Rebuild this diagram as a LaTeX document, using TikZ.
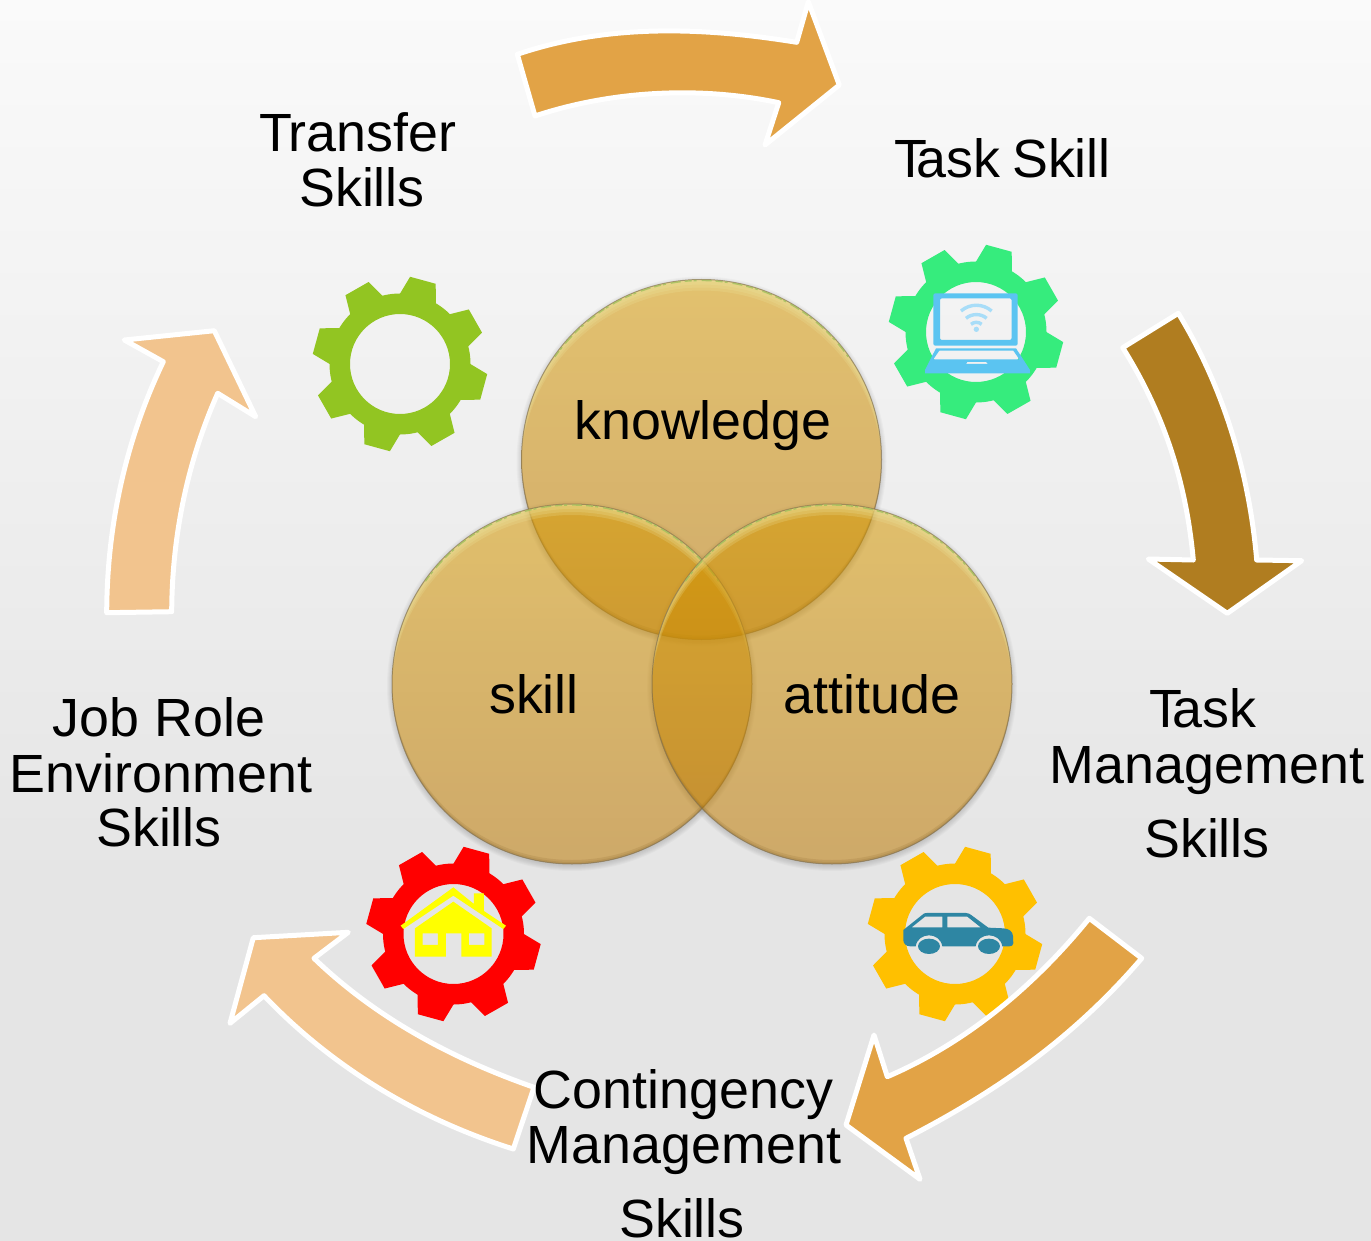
\documentclass[tikz,border=0pt]{standalone}
\usepackage{fontspec}
\setmainfont{Liberation Sans}
\definecolor{arrowgold}{HTML}{E2A346}
\definecolor{arrowbrown}{HTML}{B07D20}
\definecolor{arrowpeach}{HTML}{F2C48E}
\definecolor{gearolive}{HTML}{92C522}
\definecolor{geargreen}{HTML}{36EC7D}
\definecolor{gearred}{HTML}{FF0000}
\definecolor{gearamber}{HTML}{FFC000}
\definecolor{laptopblue}{HTML}{5BC4F1}
\definecolor{wifiblue}{HTML}{A8DDF8}
\definecolor{houseyellow}{HTML}{FFFF00}
\definecolor{cartone}{HTML}{2E86A3}
\definecolor{discTop}{RGB}{214,153,2}
\definecolor{discMid}{RGB}{205,140,7}
\definecolor{discBot}{RGB}{187,120,4}
\definecolor{discRim}{HTML}{7F6F50}
\definecolor{discBevel}{HTML}{EDE6A0}
\definecolor{discSpeck}{HTML}{9CBF5A}
\definecolor{discDeep}{HTML}{7A5A20}
\definecolor{bgTop}{HTML}{FAFAFA}
\definecolor{bgBot}{HTML}{E5E5E5}
\tikzset{
  blockarrow/.style={draw=white,line width=5pt,line join=round},
  lab/.style={anchor=base,inner sep=0pt,text=black,font=\fontsize{53.8}{56}\selectfont},
}
\newcommand{\gearat}[3]{%
  \begin{scope}[shift={(#1,#2)},x=1pt,y=1pt]
    \fill[#3,even odd rule] (0,0) circle (70.5) (0,0) circle (50);
    \foreach \a in {0,45,...,315}
      \fill[#3] (74.7+\a-15.5:70) -- (74.7+\a-8.7:87.8) -- (74.7+\a+8.7:87.8) -- (74.7+\a+15.5:70) -- cycle;
  \end{scope}}
\newcommand{\discshadow}[2]{%
  \begin{scope}[even odd rule]
    \clip (-10,-10) rectangle (1400,1300) (#1,#2) circle (180);
    \foreach \k in {1,...,6}
      \fill[black,opacity=.025] (#1,#2+2) circle ({179+\k});
  \end{scope}}
\newcommand{\discat}[2]{%
  \begin{scope}
    \shade[top color=discTop,middle color=discMid,bottom color=discBot,opacity=.55] (#1,#2) circle (180);
    \begin{scope}
      \clip (#1,#2) circle (180);
      \foreach \d in {3,6,9,12}
        \fill[discBevel,opacity=.22,even odd rule] (#1-200,#2-200) rectangle (#1+200,#2+200) (#1,#2+\d) circle (181);
      \foreach \d in {2,4}
        \fill[discDeep,opacity=.14,even odd rule] (#1-200,#2-200) rectangle (#1+200,#2+200) (#1,#2-\d) circle (180);
    \end{scope}
    \draw[discRim,line width=1pt,opacity=.65] (#1,#2) circle (180);
    \draw[discSpeck,line width=1.4pt,opacity=.75,shift={(#1,#2)},dash pattern=on 7pt off 2pt on 3pt off 5pt on 10pt off 4pt] (-145:179) arc[start angle=-145,end angle=-35,radius=179];
  \end{scope}}
\begin{document}
\begin{tikzpicture}[x=1pt,y=-1pt]
\useasboundingbox (0,0) rectangle (1371,1241);
% background
\shade[top color=bgTop,bottom color=bgBot] (0,0) rectangle (1371,880);
\fill[bgBot] (0,879.5) rectangle (1371,1241);

% gears
\gearat{400}{364}{gearolive}
\gearat{976}{332}{geargreen}
\gearat{453.5}{934}{gearred}
\gearat{955}{934}{gearamber}

% laptop
\begin{scope}[shift={(860,230)},x=.3333pt,y=-.3333pt]
  \fill[laptopblue,rounded corners=2pt,even odd rule] (220,190) rectangle (473,347) (240,205) rectangle (455,330);
  \fill[laptopblue,even odd rule] (228,355) -- (468,355) -- (510,420) -- (510,430) -- (195,430) -- (195,420) -- cycle
     (238,362) -- (460,362) -- (478,388) -- (220,388) -- cycle
     (322,396) -- (378,396) -- (384,402) -- (318,402) -- cycle;
  \fill[wifiblue] (349,298) circle (8);
  \draw[wifiblue,line width=3.4pt] (303,243) .. controls (330,220) and (368,220) .. (395,243);
  \draw[wifiblue,line width=3.4pt] (318,265) .. controls (335,250) and (363,250) .. (380,265);
  \draw[wifiblue,line width=3.4pt] (333,283) .. controls (342,275) and (356,275) .. (365,283);
\end{scope}

% house
\begin{scope}[shift={(350,830)},x=.3333pt,y=-.3333pt]
  \fill[houseyellow] (152,287) -- (310,172) -- (372,222) -- (372,190) -- (402,190) -- (402,243) -- (468,287) -- (460,297) -- (310,197) -- (160,297) -- cycle;
  \fill[houseyellow,even odd rule] (195,295) -- (310,215) -- (425,295) -- (425,380) -- (334,380) -- (334,310) -- (288,310) -- (288,380) -- (195,380) -- cycle
     (218,310) rectangle (264,345) (357,310) rectangle (403,345);
\end{scope}

% car
\begin{scope}[shift={(860,830)},x=.3333pt,y=-.3333pt]
  \fill[cartone,even odd rule]
     (130,300) -- (185,256) .. controls (190,250) and (195,249) .. (200,249) -- (318,249) .. controls (325,249) and (330,252) .. (335,256) -- (385,293) -- (430,295)
     .. controls (448,296) and (458,305) .. (459,318) -- (460,340) .. controls (460,346) and (455,349) .. (448,349) -- (427,349)
     .. controls (420,305) and (354,305) .. (347,349) -- (247,349)
     .. controls (240,305) and (174,305) .. (167,349) -- (150,349) .. controls (138,349) and (130,340) .. (130,330) -- cycle
     (155,292) -- (195,260) -- (247,260) -- (247,292) -- cycle
     (262,260) -- (322,260) -- (362,292) -- (262,292) -- cycle;
  \fill[cartone] (207,349) ellipse [x radius=33,y radius=23];
  \fill[cartone] (387,349) ellipse [x radius=33,y radius=23];
\end{scope}

% Venn discs
\discshadow{701.5}{459.5}
\discshadow{572}{684}
\discshadow{832}{684}
\discat{701.5}{459.5}
\discat{572}{684}
\discat{832}{684}

% block arrows
\path[blockarrow,fill=arrowgold] (517.3,54.3) .. controls (610,23) and (705,27.5) .. (796.7,42.3) -- (808.3,1.7) -- (839.3,85) -- (765,145) -- (778.7,102.7) .. controls (700,86) and (612,90.5) .. (535,116) -- cycle;
\path[blockarrow,fill=arrowbrown] (1178.3,313.3) .. controls (1222,385) and (1249,470) .. (1256.7,560) -- (1301.7,560.7) -- (1227.3,613.3) -- (1148.3,559) -- (1193.3,560) .. controls (1186,480) and (1163,412) .. (1122.7,347.7) -- cycle;
\path[blockarrow,fill=arrowgold] (1141.7,958.3) .. controls (1075,1036) and (1000,1090) .. (906,1138.3) -- (920,1179.3) -- (846,1125) -- (874,1035) -- (887.3,1076.7) .. controls (968,1042) and (1035,985) .. (1089.3,918.3) -- cycle;
\path[blockarrow,fill=arrowpeach] (513.3,1149) .. controls (415,1118) and (330,1065) .. (264,995.7) -- (230,1023.3) -- (253.3,937.7) -- (348.3,932.3) -- (314,958.3) .. controls (375,1017) and (450,1058) .. (534,1087.3) -- cycle;
\path[blockarrow,fill=arrowpeach] (106.7,612.7) .. controls (107,520) and (128,435) .. (163.3,361.7) -- (124.3,340) -- (214.3,330.7) -- (255.7,416.7) -- (217.7,393.3) .. controls (188,460) and (172,535) .. (171.7,611.7) -- cycle;

% labels
\node[lab] (transfer) at (358,151.5) {T\kern-4pt ransfer};
\node[lab] (transferb) at (362,206.5) {Skills};
\node[lab] (taskskill) at (1002.5,177.5) {T\kern-10.5pt ask\kern-3pt\ Skill};
\node[lab] (taskm) at (1203,727.5) {T\kern-10.5pt ask};
\node[lab] (taskmb) at (1207,783.5) {Management};
\node[lab] (taskmc) at (1207,857.5) {Skills};
\node[lab] (conta) at (683.5,1108.5) {Contingency};
\node[lab] (contb) at (684,1163.5) {Management};
\node[lab] (contc) at (682,1237.5) {Skills};
\node[lab] (joba) at (159,736.5) {Job Role};
\node[lab] (jobb) at (161,792.5) {Environment};
\node[lab] (jobc) at (159,846.5) {Skills};
\node[lab] (know) at (703,439.5) {knowledge};
\node[lab] (skill) at (534,713.5) {skill};
\node[lab] (attitude) at (872,713.5) {attitude};
\end{tikzpicture}
\end{document}
